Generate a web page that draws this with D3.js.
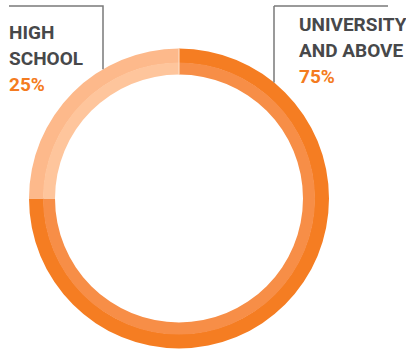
<!DOCTYPE html>
<html lang="en">
<head>
    <meta charset="UTF-8">
    <title>education donut</title>
    <script src="https://cdn.jsdelivr.net/npm/d3@7"></script>
    <style>
        body { margin: 0; background: #fff; }
        #chart { width: 406px; height: 349px; }
        .label { font-family: Roboto, "Liberation Sans", sans-serif; font-weight: 700; font-size: 19px; }
        .leader { fill: none; stroke: #7a7a7a; stroke-width: 1.5px; }
    </style>
</head>
<body>
    <div id="chart"></div>
<script>
    // data
    let categories = ["UNIVERSITY AND ABOVE", "HIGH SCHOOL"];
    let values = [75, 25];
    let labelLines = [["UNIVERSITY", "AND ABOVE"], ["HIGH", "SCHOOL"]];
    let valueLabels = ["75%", "25%"];

    let draw = () => {
        let width = 406, height = 349;
        let svg = d3.select("#chart").append("svg")
            .attr("width", width)
            .attr("height", height);

        let cx = 179, cy = 198.5;
        let rOuter = 150, rMid = 135.5, rInner = 124;

        // outer band / inner band colours per slice
        let outerColor = d3.scaleOrdinal().domain(categories).range(["#f57d22", "#fdb98b"]);
        let innerColor = d3.scaleOrdinal().domain(categories).range(["#f78e47", "#fec59c"]);

        let pie = d3.pie().sort(null).value(d => d.value);
        let arcs = pie(categories.map((c, i) => ({ cat: c, value: values[i] })));

        let g = svg.append("g").attr("transform", "translate(" + cx + "," + cy + ")");

        let outerArc = d3.arc().innerRadius(rMid).outerRadius(rOuter);
        let innerArc = d3.arc().innerRadius(rInner).outerRadius(rMid + 0.5);

        g.selectAll(".outer")
            .data(arcs)
            .enter().append("path")
            .attr("class", "outer")
            .attr("d", outerArc)
            .style("fill", d => outerColor(d.data.cat));

        g.selectAll(".inner")
            .data(arcs)
            .enter().append("path")
            .attr("class", "inner")
            .attr("d", innerArc)
            .style("fill", d => innerColor(d.data.cat));

        // thin pale seam at 12 o'clock
        let seamAngle = arcs[0].startAngle;
        g.append("line")
            .attr("x1", Math.sin(seamAngle) * rInner)
            .attr("y1", -Math.cos(seamAngle) * rInner)
            .attr("x2", Math.sin(seamAngle) * rOuter)
            .attr("y2", -Math.cos(seamAngle) * rOuter)
            .style("stroke", "#fde3cf")
            .style("stroke-width", 1);

        // labels with leader lines
        let labels = [
            { lineX: 274, hx1: 274, hx2: 388, tx: 299, ty: 31 },
            { lineX: 103, hx1: 9, hx2: 103, tx: 9, ty: 39 }
        ];
        let topY = 6;
        labels.forEach((L, i) => {
            let dx = L.lineX - cx;
            let yEdge = cy - Math.sqrt(rOuter * rOuter - dx * dx);
            svg.append("path")
                .attr("class", "leader")
                .attr("d", "M" + L.hx1 + "," + topY + "H" + L.hx2 + (L.lineX === L.hx2 ? "" : "M" + L.lineX + "," + topY)
                    + "V" + yEdge);

            let t = svg.append("text").attr("class", "label");
            labelLines[i].forEach((s, j) => {
                t.append("tspan")
                    .attr("x", L.tx)
                    .attr("y", L.ty + j * 26)
                    .style("fill", "#47484a")
                    .text(s);
            });
            t.append("tspan")
                .attr("x", L.tx)
                .attr("y", L.ty + labelLines[i].length * 26)
                .style("fill", "#f47b20")
                .text(valueLabels[i]);
        });
    }
    draw();
</script>
</body>
</html>
